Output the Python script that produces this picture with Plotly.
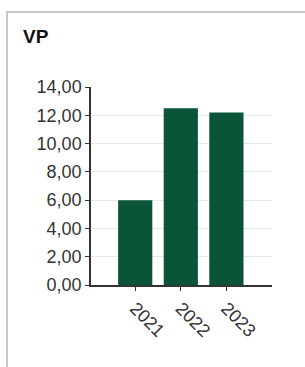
import plotly.graph_objects as go

categories = ["2021", "2022", "2023"]
values = [6.0, 12.5, 12.2]
y_ticks = [0, 2, 4, 6, 8, 10, 12, 14]

W, H = 305, 367
ml, mr, mt, mb = 91, 33, 87, 82
pw = W - ml - mr
ph = H - mt - mb

def px(x):
    return (x - ml) / pw

def py(y):
    return (H - mb - y) / ph

fig = go.Figure(go.Bar(
    x=categories, y=values,
    marker=dict(color="#0a5538", line=dict(width=0)),
    width=0.75,
))

fig.update_layout(
    width=W, height=H,
    margin=dict(l=ml, r=mr, t=mt, b=mb),
    paper_bgcolor="white", plot_bgcolor="white",
    separators=",.",
    showlegend=False,
    font=dict(family="Arial, Liberation Sans, sans-serif", size=18, color="#333333"),
    xaxis=dict(
        type="category", range=[-0.97, 3.0],
        showline=True, linecolor="#333333", linewidth=1.5,
        ticks="outside", ticklen=4, tickcolor="#333333",
        tickangle=45, showgrid=False,
        tickfont=dict(size=18, color="#333333"),
    ),
    yaxis=dict(
        range=[0, 14], tickvals=y_ticks, tickformat=".2f",
        showline=True, linecolor="#333333", linewidth=1.5,
        ticks="outside", ticklen=4, tickcolor="#333333",
        showgrid=True, gridcolor="#e8e8e8", gridwidth=1,
        zeroline=False,
        tickfont=dict(size=18, color="#333333"),
    ),
    shapes=[dict(
        type="rect", xref="paper", yref="paper",
        x0=px(7), x1=px(W + 10), y0=py(H + 10), y1=py(12),
        line=dict(color="#c8c8c8", width=2), fillcolor="rgba(0,0,0,0)",
        layer="below",
    )],
    annotations=[dict(
        text="<b>VP</b>", xref="paper", yref="paper",
        x=px(21), y=py(37), xanchor="left", yanchor="middle",
        showarrow=False, font=dict(size=19, color="#111111"),
    )],
)

fig.write_html(
    "out.html",
    config={"displayModeBar": False},
    post_script="document.body.style.margin='0';document.body.style.padding='0';",
)
